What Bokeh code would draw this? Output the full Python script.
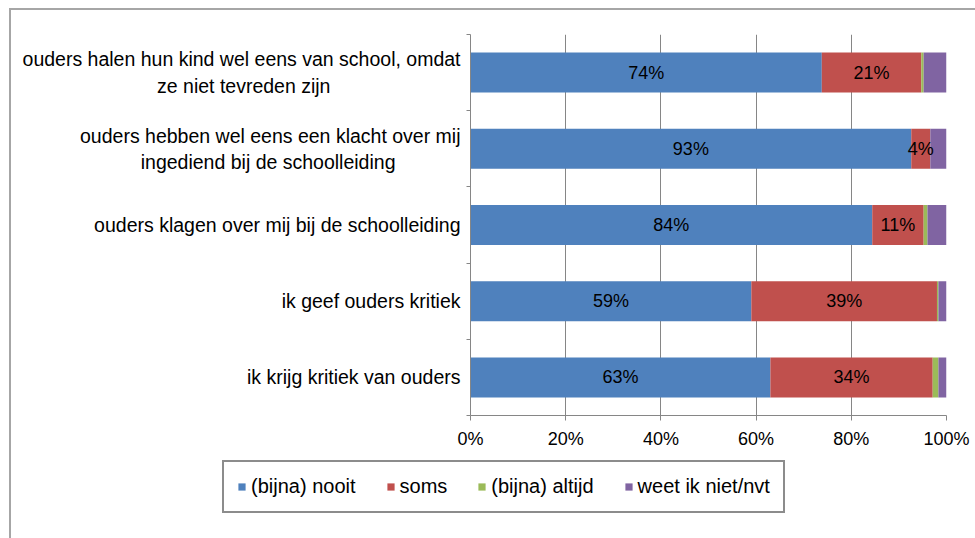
from bokeh.plotting import figure
from bokeh.layouts import column
from bokeh.models import (Range1d, LinearAxis, FixedTicker,
                          NumeralTickFormatter, Legend, LegendItem, ColumnDataSource, LabelSet)
from bokeh.core.properties import value
from bokeh.embed import file_html
from bokeh.resources import INLINE

categories = [
    "ouders halen hun kind wel eens van school, omdat\nze niet tevreden zijn",
    "ouders hebben wel eens een klacht over mij\ningediend bij de schoolleiding",
    "ouders klagen over mij bij de schoolleiding",
    "ik geef ouders kritiek",
    "ik krijg kritiek van ouders",
]
series_names = ["(bijna) nooit", "soms", "(bijna) altijd", "weet ik niet/nvt"]
nooit = [73.8, 92.6, 84.4, 59.0, 63.0]
soms = [20.9, 4.0, 10.8, 39.0, 34.1]
altijd = [0.5, 0.0, 0.8, 0.3, 1.2]
weet = [4.8, 3.4, 4.0, 1.7, 1.7]
colors = ["#4F81BD", "#C0504D", "#9BBB59", "#8064A2"]
x_ticks = [0, 0.2, 0.4, 0.6, 0.8, 1.0]

FONT = "Liberation Sans"
n = len(categories)
ypos = [n - i - 0.5 for i in range(n)]
keys = ["nooit", "soms", "altijd", "weet"]

# approximate Arial advance widths (em) to centre the lines of wrapped labels
_w = {" ": .278, ",": .278, "/": .278, "(": .333, ")": .333, "%": .889,
      "i": .222, "j": .222, "l": .222, "t": .278, "f": .278, "r": .333,
      "c": .5, "k": .5, "s": .5, "v": .5, "z": .5, "y": .5, "x": .5,
      "m": .833, "w": .722}
def text_w(s):
    return sum(_w.get(ch, .556) for ch in s)

def centred(label):
    lines = label.split("\n")
    if len(lines) == 1:
        return label
    widest = max(text_w(l) for l in lines)
    out = []
    for l in lines:
        pad = int(round((widest - text_w(l)) / 2 / _w[" "]))
        out.append(l + " " * pad)
    return "\n".join(out)

data = {"y": ypos}
for name, vals in zip(keys, [nooit, soms, altijd, weet]):
    data[name] = [v / 100 for v in vals]
source = ColumnDataSource(data)

W = 964
p = figure(width=W, height=445, output_backend="svg", toolbar_location=None,
           y_range=Range1d(0, n), x_range=Range1d(0, 1),
           x_axis_location=None, y_axis_location=None,
           min_border_left=459, min_border_right=29, min_border_top=24, min_border_bottom=40)
p.frame_align = False
p.outline_line_color = None
p.background_fill_color = "white"
p.border_fill_color = "white"

renderers = p.hbar_stack(keys, y="y", height=0.525, color=colors, line_color=None, source=source)

# grid
p.ygrid.visible = False
p.xgrid.ticker = FixedTicker(ticks=x_ticks)
p.xgrid.grid_line_color = "#868686"
p.xgrid.grid_line_width = 1

# x axis
xaxis = LinearAxis(ticker=FixedTicker(ticks=x_ticks), formatter=NumeralTickFormatter(format="0%"))
xaxis.axis_line_color = "#868686"
xaxis.major_tick_line_color = "#868686"
xaxis.major_tick_out = 5
xaxis.major_tick_in = 0
xaxis.minor_tick_line_color = None
xaxis.major_label_text_font = FONT
xaxis.major_label_text_font_size = "18px"
xaxis.major_label_text_color = "black"
xaxis.major_label_standoff = 8
p.add_layout(xaxis, "below")

# y ticks at category boundaries
ytick_axis = LinearAxis(ticker=FixedTicker(ticks=list(range(n + 1))))
ytick_axis.axis_line_color = "#868686"
ytick_axis.major_tick_line_color = "#868686"
ytick_axis.major_tick_out = 4
ytick_axis.major_tick_in = 0
ytick_axis.minor_tick_line_color = None
ytick_axis.major_label_text_font_size = "0px"
ytick_axis.major_label_standoff = 0
p.add_layout(ytick_axis, "left")

# category labels
yaxis = LinearAxis(ticker=FixedTicker(ticks=ypos),
                   major_label_overrides={y: centred(c) for y, c in zip(ypos, categories)})
yaxis.axis_line_color = None
yaxis.major_tick_line_color = None
yaxis.major_tick_out = 0
yaxis.minor_tick_line_color = None
yaxis.major_label_text_font = FONT
yaxis.major_label_text_font_size = "19.5px"
yaxis.major_label_text_color = "black"
yaxis.major_label_standoff = 6
p.add_layout(yaxis, "left")

# data labels for first two series
lab_x, lab_y, lab_t = [], [], []
for i in range(n):
    lab_x.append(nooit[i] / 200)
    lab_y.append(ypos[i])
    lab_t.append(f"{round(nooit[i])}%")
    lab_x.append((nooit[i] + soms[i] / 2) / 100)
    lab_y.append(ypos[i])
    lab_t.append(f"{round(soms[i])}%")
lsrc = ColumnDataSource(dict(x=lab_x, y=lab_y, t=lab_t))
labels = LabelSet(x="x", y="y", text="t", source=lsrc, text_align="center", text_baseline="middle",
                  text_font=value(FONT), text_font_size=value("18px"), text_color="black")
p.add_layout(labels)

# legend strip below the chart
p2 = figure(width=W, height=83, output_backend="svg", toolbar_location=None,
            x_range=Range1d(0, 1), y_range=Range1d(0, 1),
            x_axis_location=None, y_axis_location=None, min_border=0)
p2.frame_align = False
p2.outline_line_color = None
p2.grid.visible = False
leg_r = p2.hbar_stack(keys, y="y", height=0.525, color=colors, line_color=None,
                      source=source, visible=False)
legend = Legend(items=[LegendItem(label=s, renderers=[r]) for s, r in zip(series_names, leg_r)],
                orientation="horizontal", location=(211, 25))
legend.label_text_font = FONT
legend.label_text_font_size = "20px"
legend.label_text_color = "black"
legend.glyph_width = 9
legend.glyph_height = 9
legend.label_standoff = 5
legend.spacing = 30
legend.padding = 13
legend.margin = 0
legend.border_line_color = "#1a1a1a"
legend.border_line_width = 2
legend.background_fill_alpha = 1
legend.inactive_fill_alpha = 0
p2.add_layout(legend, "center")

layout = column(p, p2, spacing=0)
layout.styles = {"margin-left": "9px", "margin-top": "8px",
                 "border-left": "2px solid #a6a6a6", "border-top": "2px solid #a6a6a6"}

open("out.html", "w").write(file_html(layout, INLINE))
